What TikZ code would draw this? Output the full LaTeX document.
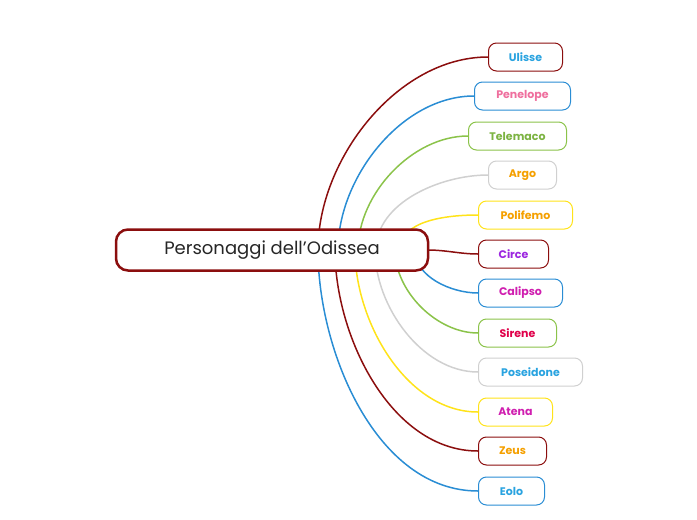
\documentclass[tikz,border=0pt]{standalone}
\usepackage{fontspec}
\setmainfont{Poppins}
\usetikzlibrary{backgrounds}
\begin{document}
\begin{tikzpicture}[x=1pt,y=-1pt]
    %colori
    \definecolor{dred}{HTML}{8B0E0E}
    \definecolor{mblue}{HTML}{2A8DD4}
    \definecolor{mgreen}{HTML}{8BC34A}
    \definecolor{lgray}{HTML}{D0D0D0}
    \definecolor{myellow}{HTML}{FFE31A}
    \definecolor{tblue}{HTML}{29A3E0}
    \definecolor{tpink}{HTML}{EF6F9E}
    \definecolor{tgreen}{HTML}{7CB342}
    \definecolor{torange}{HTML}{F5A000}
    \definecolor{tpurple}{HTML}{9C27E0}
    \definecolor{tmagenta}{HTML}{D01FB0}
    \definecolor{tcrimson}{HTML}{E0004A}
    \tikzset{
        root/.style={draw=dred,line width=2.5pt,rounded corners=12pt,fill=white,
            minimum width=312pt,minimum height=41pt,text=black!85,font=\fontsize{18}{20}\selectfont},
        leaf/.style={draw=#1,line width=1pt,rounded corners=8pt,fill=white,
            minimum height=28pt,anchor=west,inner xsep=0pt,font=\fontsize{11}{13}\selectfont\bfseries},
        link/.style={draw=#1,line width=1.5pt}
    }
    \useasboundingbox (0,0) rectangle (697,520);
    % nodo centrale
    \node[root] (odissea) at (272,250) {Personaggi dell'Odissea};
    % personaggi
    \foreach \name/\x/\w/\y/\bc/\tc/\sx/\a in {
        Ulisse/488/74/57/dred/tblue/318/90,
        Penelope/474/96/96/mblue/tpink/338/90,
        Telemaco/468/98/136/mgreen/tgreen/358/90,
        Argo/488/68/175/lgray/torange/376/90,
        Polifemo/478/94/215/myellow/torange/400/90,
        Circe/478/70/254/dred/tpurple/428/0,
        Calipso/478/84/293/mblue/tmagenta/415/270,
        Sirene/478/78/333/mgreen/tcrimson/395/270,
        Poseidone/478/104/372/lgray/tblue/375/270,
        Atena/478/74/412/myellow/tmagenta/355/270,
        Zeus/478/68/451/dred/torange/335/270,
        Eolo/478/66/491/mblue/tblue/318/270}
    {
        \node[leaf=\bc,text=\tc,minimum width=\w pt] (\name) at (\x,\y) {\name};
        \coordinate (s\name) at (\sx,250);
        \begin{scope}[on background layer]
            \draw[link=\bc] (s\name) to[out=\a,in=180,looseness=0.9] (\name.west);
        \end{scope}
    }
\end{tikzpicture}
\end{document}
